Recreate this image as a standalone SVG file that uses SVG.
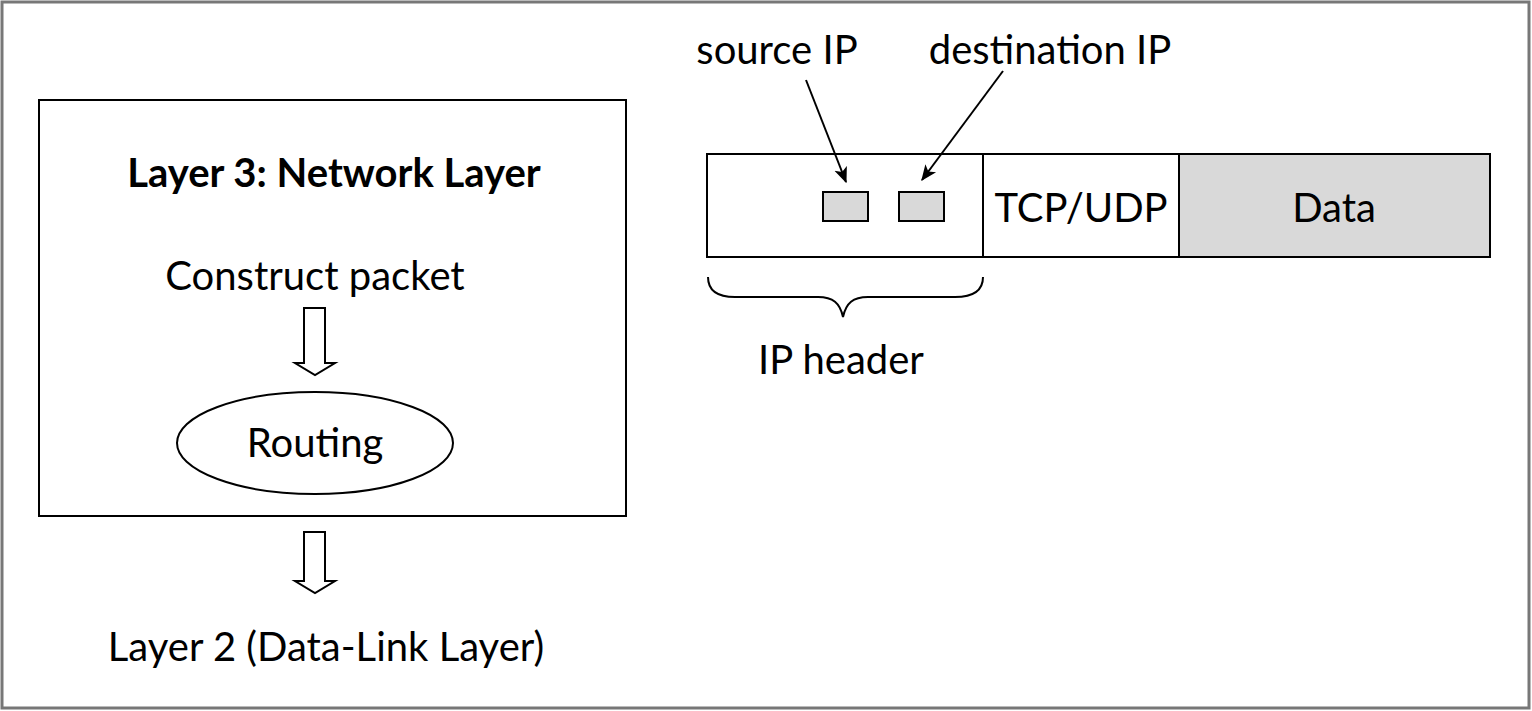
<svg xmlns="http://www.w3.org/2000/svg" width="1532" height="711" viewBox="0 0 1532 711">
  <defs>
    <style>
      text { font-family: Lato, "Open Sans", "Liberation Sans", sans-serif; font-size: 40px; fill: #000; }
      .bold { font-weight: bold; }
      .box { fill: #fff; stroke: #000; stroke-width: 2; }
      .grey { fill: #d9d9d9; stroke: #000; stroke-width: 2; }
      .line { fill: none; stroke: #000; stroke-width: 2; }
      .hollow { fill: #fff; stroke: #000; stroke-width: 2; stroke-linejoin: miter; }
    </style>
    <marker id="head" viewBox="0 0 12 12" refX="11" refY="6" markerWidth="16" markerHeight="16" orient="auto" markerUnits="userSpaceOnUse">
      <path d="M0,1 L12,6 L0,11 L3,6 z" fill="#000"/>
    </marker>
  </defs>

  <!-- outer frame -->
  <rect x="2" y="2" width="1527" height="706" fill="#fff" stroke="#777" stroke-width="3"/>

  <!-- network layer box -->
  <g id="network-layer">
    <rect class="box" x="39" y="100" width="587" height="416"/>
    <text class="bold" x="334" y="187" text-anchor="middle">Layer 3: Network Layer</text>
    <text x="315" y="290" text-anchor="middle">Construct packet</text>
  </g>

  <g id="routing">
    <ellipse class="box" cx="315" cy="443" rx="138" ry="51"/>
    <text x="315" y="457" text-anchor="middle">Routing</text>
  </g>

  <g id="layer2">
    <text x="326" y="661" text-anchor="middle">Layer 2 (Data-Link Layer)</text>
  </g>

  <!-- packet layout -->
  <g id="ip-header">
    <rect class="box" x="707" y="154" width="276" height="103"/>
    <rect class="grey" x="823" y="192" width="45" height="29"/>
    <rect class="grey" x="899" y="192" width="45" height="29"/>
  </g>
  <g id="tcp-udp">
    <rect class="box" x="983" y="154" width="196" height="103"/>
    <text x="1081" y="222" text-anchor="middle">TCP/UDP</text>
  </g>
  <g id="data">
    <rect class="grey" x="1179" y="154" width="311" height="103"/>
    <text x="1334" y="222" text-anchor="middle">Data</text>
  </g>

  <g id="source-ip-label">
    <text x="777" y="64" text-anchor="middle">source IP</text>
  </g>
  <g id="destination-ip-label">
    <text x="1050" y="64" text-anchor="middle">destination IP</text>
  </g>
  <g id="ip-header-label">
    <text x="841" y="374" text-anchor="middle">IP header</text>
  </g>

  <!-- connectors -->
  <g id="connectors">
    <line class="line" x1="806" y1="80" x2="846" y2="182" marker-end="url(#head)"/>
    <line class="line" x1="1003" y1="71" x2="922" y2="180" marker-end="url(#head)"/>
    <!-- brace under the IP header -->
    <path class="line" d="M708,277 C708,290 716,297 735,297 L818,297 C833,297 840,303 843,317 C846,303 853,297 868,297 L955,297 C974,297 983,290 983,277"/>
    <!-- hollow block arrows -->
    <path class="hollow" d="M304,308 L325,308 L325,363 L335,363 L315,375 L295,363 L304,363 Z"/>
    <path class="hollow" d="M304,532 L325,532 L325,581 L335,581 L315,593 L295,581 L304,581 Z"/>
  </g>
</svg>
